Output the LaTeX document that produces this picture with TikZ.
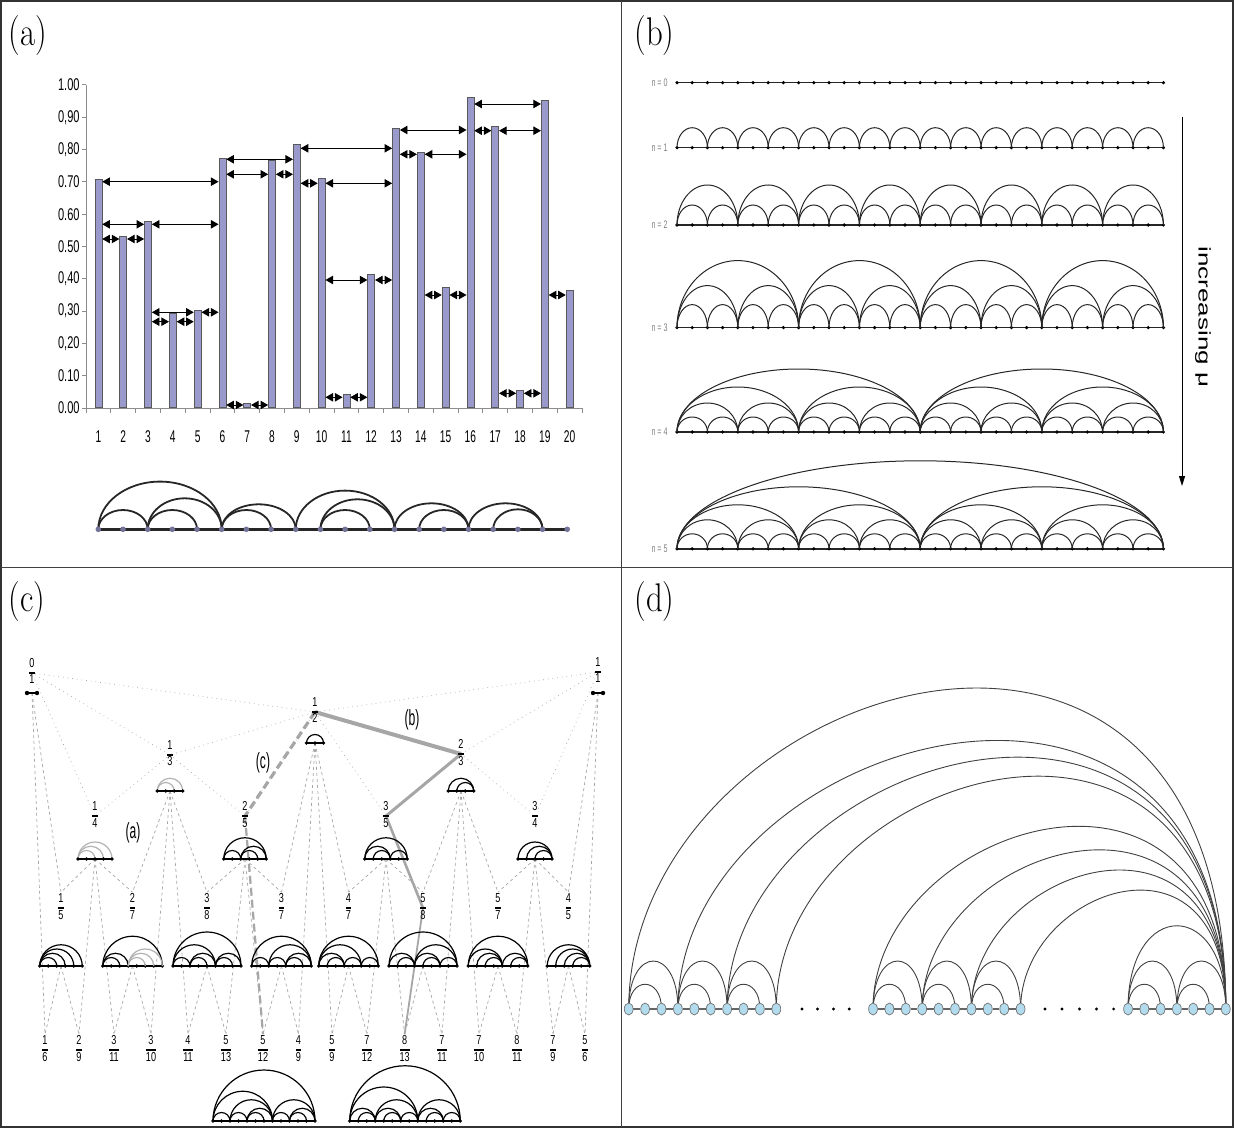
\documentclass[tikz,border=0pt]{standalone}
\usepackage{fontspec}
\newfontfamily\arial{Liberation Sans}
\usetikzlibrary{calc,positioning,arrows.meta,shapes.geometric}
\pgfdeclarelayer{back}
\pgfsetlayers{back,main}

\definecolor{barfill}{RGB}{153,153,204}
\definecolor{nodeblue}{RGB}{178,220,238}

\newcommand{\nar}[2][0.65]{\scalebox{#1}[1]{#2}}
\newcommand{\fr}[2]{\nar[0.7]{\renewcommand\arraystretch{1.05}\setlength\arrayrulewidth{0.7pt}\begin{tabular}{@{}c@{}}#1\\\hline#2\end{tabular}}}

% arc diagram of a fraction: name, x, y, intervals, arcs
\newcommand{\fdiag}[6][]{%
  \coordinate (#2) at (#3,#4);
  \foreach \ua/\ub in {#6}
    \draw[farc,#1] ($(#2)+({(\ua-#5/2)*8.5},0)$) arc[start angle=180,end angle=0,radius={(\ub-\ua)*2.125pt}];
  \draw[fbase] ($(#2)+({-#5*4.25},0)$) -- ($(#2)+({#5*4.25},0)$);
  \foreach \k in {0,...,#5}
    \fill ($(#2)+({(\k-#5/2)*8.5},0)$) circle[radius=0.9pt];
}
\newcommand{\fmore}[4][]{%
  \foreach \ua/\ub in {#4}
    \draw[farc,#1] ($(#2)+({(\ua-#3/2)*8.5},0)$) arc[start angle=180,end angle=0,radius={(\ub-\ua)*2.125pt}];
}
\newcommand{\fdumb}[3]{%
  \coordinate (#1) at (#2,#3);
  \draw[fbase] ($(#1)+(-5,0)$) -- ($(#1)+(5,0)$);
  \fill ($(#1)+(-5,0)$) circle[radius=1.1pt] ($(#1)+(5,0)$) circle[radius=1.1pt];
}

\tikzset{
  outerframe/.style={draw=black!80, line width=1pt},
  divider/.style={draw=black!75, line width=0.5pt},
  panel/.style={anchor=west, inner sep=0pt, font=\fontsize{20}{24}\selectfont},
  chartaxis/.style={draw=black!45, line width=0.5pt},
  barbox/.style={draw=black!65, fill=barfill, line width=0.35pt, minimum width=3.5pt, inner sep=0pt, anchor=south},
  ticklab/.style={inner sep=0pt, font=\arial\fontsize{8.5}{10}\selectfont},
  dbl/.style={{Triangle[length=3.8pt,width=4.2pt]}-{Triangle[length=3.8pt,width=4.2pt]}, line width=0.45pt},
  adot/.style={circle, fill=barfill!75!black, inner sep=0pt, minimum size=2.8pt},
  abase/.style={draw=black!85, line width=1.2pt},
  aarc/.style={draw=black!85, line width=0.9pt},
  nlab/.style={anchor=east, inner sep=0pt, text=black!50, font=\arial\fontsize{5.5}{6}\selectfont},
  bbase/.style={draw=black!85, line width=0.8pt},
  barc/.style={draw=black!85, line width=0.5pt},
  frl/.style={inner sep=0pt, font=\arial\fontsize{6.5}{7}\selectfont},
  fbase/.style={draw=black, line width=0.9pt},
  farc/.style={draw=black, line width=0.6pt},
  garc/.style={draw=black!30},
  fdot/.style={draw=black!35, line width=0.35pt, dotted},
  fdash/.style={draw=black!35, line width=0.35pt, dash pattern=on 1.5pt off 1.5pt},
  hlpath/.style={draw=black!35},
  hltext/.style={inner sep=0pt, font=\arial\fontsize{11}{12}\selectfont},
  dnode/.style={ellipse, draw=black!55, fill=nodeblue, line width=0.35pt, minimum width=4.4pt, minimum height=6pt, inner sep=0pt},
  ddot/.style={circle, fill=black, inner sep=0pt, minimum size=1.6pt},
  dline/.style={draw=black!60, line width=0.7pt},
  darc/.style={draw=black!75, line width=0.45pt},
}

\begin{document}
\begin{tikzpicture}[x=0.5pt,y=-0.5pt]
\useasboundingbox (0,0) rectangle (1234,1128);

% frame
\draw[outerframe] (1,1) rectangle (1233,1127);
\draw[divider] (621,1) -- (621,1127);
\draw[divider] (1,567) -- (1233,567);
\node[panel] (la) at (8,36) {\nar[0.82]{(a)}};
\node[panel] (lb) at (634,36) {\nar[0.82]{(b)}};
\node[panel] (lc) at (8,602) {\nar[0.82]{(c)}};
\node[panel] (ld) at (634,602) {\nar[0.82]{(d)}};

% (a) bar chart
\draw[chartaxis] (86,85) -- (86,408) -- (582,408);
\foreach \k [evaluate=\k as \yy using 408-32.3*\k] in {0,...,10}
  \draw[chartaxis] (82,\yy) -- (86,\yy);
\foreach \k/\lab in {0/0.00,1/0.10,2/{0,20},3/{0,30},4/{0,40},5/0.50,6/0.60,7/0.70,8/{0,80},9/{0,90},10/1.00}
  \node[ticklab, anchor=east] (yl\k) at (80,408-32.3*\k) {\nar{\lab}};
\foreach \k in {0,...,20}
  \draw[chartaxis] (86+24.8*\k,408) -- ++(0,5);
\foreach \i in {1,...,20}
  \node[ticklab] (xl\i) at (73.6+24.8*\i,437) {\nar[0.6]{\i}};
\foreach \i/\val in {1/0.706,2/0.530,3/0.578,4/0.291,5/0.300,6/0.773,7/0.012,8/0.765,9/0.816,10/0.709,11/0.042,12/0.414,13/0.864,14/0.789,15/0.371,16/0.961,17/0.870,18/0.055,19/0.951,20/0.364}
  \node[barbox, minimum height={\val*161.5pt}] (bar\i) at (73.6+24.8*\i,408) {};
\foreach \i/\j/\y in {1/6/181.7, 1/3/224.3, 1/2/239, 2/3/239, 3/6/224.3, 3/5/312.3, 3/4/321.7, 4/5/321.7, 5/6/312.3, 6/9/159.3, 6/8/174.3, 8/9/174.3, 6/7/405, 7/8/405, 9/13/148.3, 9/10/183.3, 10/13/183.3, 10/12/280, 12/13/280, 10/11/397.3, 11/12/397.3, 13/16/130, 13/14/154.3, 14/16/154.3, 14/15/295, 15/16/295, 16/19/104, 16/17/130.7, 17/19/130.7, 17/18/393.3, 18/19/393.3, 19/20/295}
  \draw[dbl] ($(bar\i.south east)+(0,\y-408)$) -- ($(bar\j.south west)+(0,\y-408)$);

% (a) arc diagram
\foreach \i in {1,...,20}
  \node[adot] (v\i) at (98.3+24.68*\i-24.68,529.3) {};
\begin{pgfonlayer}{back}
  \draw[abase] (v1.center) -- (v20.center);
  \foreach \i/\j/\h in {1/3/19.3, 1/6/47.7, 3/5/19.3, 3/6/31, 6/8/19.3, 6/9/25, 9/13/38.7, 10/12/19.3, 10/13/30, 13/16/26, 14/16/19.3, 16/19/26, 17/19/20}
    \draw[aarc] (v\i.center) arc[start angle=180,end angle=0,x radius={(\j-\i)*6.17pt},y radius={\h*0.5pt}];
\end{pgfonlayer}

% (b) rows n = 0 ... 5
\foreach \n/\y in {0/82.7,1/147.7,2/225,3/327.6,4/432,5/548.8} {
  \node[nlab] (nl\n) at (668,\y) {\nar{n = \n}};
  \draw[bbase] (677,\y) -- (1163.4,\y);
  \foreach \k in {0,...,32}
    \fill (677+15.2*\k,\y) circle[radius=0.9pt];
}
\foreach \y/\lv/\h in {147.7/1/20, 225/1/20, 225/2/40, 327.6/1/23, 327.6/2/42, 327.6/3/67, 432/1/15, 432/2/29, 432/3/45, 432/4/63, 548.8/1/15, 548.8/2/29, 548.8/3/44, 548.8/4/62, 548.8/5/88} {
  \pgfmathtruncatemacro{\sp}{2^\lv}
  \pgfmathtruncatemacro{\mm}{32/\sp-1}
  \foreach \k in {0,...,\mm}
    \draw[barc] (677+15.2*\sp*\k,\y) arc[start angle=180,end angle=0,x radius={\sp*3.8pt},y radius={\h*0.5pt}];
}
\coordinate (mu1) at (1182,117);
\coordinate (mu2) at (1182,486);
\draw[-{Triangle[length=5pt,width=3pt]}, line width=0.5pt] (mu1) -- (mu2);
\node[rotate=-90, inner sep=0pt, font=\arial\fontsize{13}{15}\selectfont] (incr) at (1203,317) {\scalebox{1}[0.65]{increasing μ}};

% (c) Farey tree of arc diagrams
\node[frl] (f01) at (32,673) {\fr01};
\node[frl] (f11) at (598,672) {\fr11};
\node[frl] (f12) at (315,712) {\fr12};
\node[frl] (f13) at (170,755) {\fr13};
\node[frl] (f23) at (461,754) {\fr23};
\foreach \nm/\x/\p/\q in {f14/95/1/4, f25/245/2/5, f35/386/3/5, f34/535/3/4}
  \node[frl] (\nm) at (\x,816) {\fr{\p}{\q}};
\foreach \nm/\x/\p/\q in {f15/61/1/5, f27/132.5/2/7, f38/207/3/8, f37/281.5/3/7, f47/348.5/4/7, f58/423/5/8, f57/498/5/7, f45/568.5/4/5}
  \node[frl] (\nm) at (\x,908) {\fr{\p}{\q}};
\foreach \nm/\x/\p/\q in {f16/45/1/6, f29/79/2/9, f311/114/3/11, f310/151/3/10, f411/188/4/11, f513/226/5/13, f512/263/5/12, f49/298.5/4/9, f59/332/5/9, f712/367/7/12, f813/404.6/8/13, f711/442/7/11, f710/479/7/10, f811/517/8/11, f79/553/7/9, f56/585/5/6}
  \node[frl] (\nm) at (\x,1050) {\fr{\p}{\q}};

\fdumb{f01d}{32}{693}
\fdumb{f11d}{598}{693}
\fdiag{f12d}{315}{743}{2}{0/2}
\fdiag[garc]{f13d}{170}{791}{3}{0/2,0/3}
\fdiag{f23d}{461}{791}{3}{1/3,0/3}
\fdiag[garc]{f14d}{95}{859}{4}{0/2,0/3,0/4}
\fdiag{f25d}{245}{859}{5}{0/2,2/4,2/5,0/5}
\fdiag{f35d}{386}{859}{5}{1/3,0/3,3/5,0/5}
\fdiag{f34d}{535}{859}{4}{2/4,1/4,0/4}
\fdiag{f15d}{61}{966}{5}{0/2,0/3,0/4,0/5}
\fdiag{f27d}{132.5}{966}{7}{0/2,0/3,0/7}
\fmore[garc]{f27d}{7}{3/5,3/6,3/7}
\fdiag{f38d}{207}{966}{8}{0/2,2/4,2/5,0/5,5/7,5/8,0/8}
\fdiag{f37d}{281.5}{966}{7}{0/2,2/4,4/6,4/7,2/7,0/7}
\fdiag{f47d}{348.5}{966}{7}{1/3,0/3,3/5,0/5,5/7,0/7}
\fdiag{f58d}{423}{966}{8}{1/3,0/3,4/6,3/6,6/8,3/8,0/8}
\fdiag{f57d}{498}{966}{7}{2/4,1/4,0/4,5/7,4/7,0/7}
\fdiag{f45d}{568.5}{966}{5}{3/5,2/5,1/5,0/5}
\fdiag{f512d}{264}{1121}{12}{0/2,2/4,4/6,4/7,2/7,0/7,7/9,9/11,9/12,7/12,0/12}
\fdiag{f813d}{405}{1121}{13}{1/3,0/3,4/6,3/6,6/8,3/8,0/8,9/11,8/11,11/13,8/13,0/13}

\node[hltext] (ta) at (133,833) {\nar[0.55]{(a)}};
\node[hltext] (tb) at (412,720) {\nar[0.55]{(b)}};
\node[hltext] (tc) at (263,763) {\nar[0.55]{(c)}};

\begin{pgfonlayer}{back}
  \foreach \pa/\ch in {f01/f12, f11/f12, f01/f13, f12/f13, f12/f23, f11/f23, f01/f14, f13/f14, f13/f25, f12/f25, f12/f35, f23/f35, f23/f34, f11/f34}
    \draw[fdot] (\pa) -- (\ch);
  \foreach \pa/\ch in {f01d/f15, f14d/f15, f14d/f27, f13d/f27, f13d/f38, f25d/f38, f25d/f37, f12d/f37, f12d/f47, f35d/f47, f35d/f58, f23d/f58, f23d/f57, f34d/f57, f34d/f45, f11d/f45, f01d/f16, f15d/f16, f15d/f29, f14d/f29, f14d/f311, f27d/f311, f27d/f310, f13d/f310, f13d/f411, f38d/f411, f38d/f513, f25d/f513, f25d/f512, f37d/f512, f37d/f49, f12d/f49, f12d/f59, f47d/f59, f47d/f712, f35d/f712, f35d/f813, f58d/f813, f58d/f711, f23d/f711, f23d/f710, f57d/f710, f57d/f811, f34d/f811, f34d/f79, f45d/f79, f45d/f56, f11d/f56}
    \draw[fdash] (\pa) -- (\ch.north);
  % highlighted paths
  \draw[hlpath, line width=2pt] (f12.center) -- (f23.center);
  \draw[hlpath, line width=1.5pt] (f23.center) -- (f35.center);
  \draw[hlpath, line width=1.3pt] (f35.center) -- (f58.center);
  \draw[hlpath, line width=0.9pt] (f58.center) -- (f813.north);
  \draw[hlpath, line width=1.6pt, dash pattern=on 4pt off 2pt] (f12.center) -- (f25.center);
  \draw[hlpath, line width=1.1pt, dash pattern=on 4pt off 2pt] (f25.center) -- (f512.north);
\end{pgfonlayer}

% (d) arcs into the last node
\foreach \i in {0,...,9} {
  \node[dnode] (da\i) at (628.7+16.4*\i,1009) {};
  \node[dnode] (db\i) at (873+16.4*\i,1009) {};
}
\foreach \i in {0,...,6}
  \node[dnode] (dc\i) at (1128+16.3*\i,1009) {};
\foreach \x [count=\i] in {802,817.5,833.4,849.3,1045,1062,1079.5,1096.5,1113.6}
  \node[ddot] (dd\i) at (\x,1009) {};

\begin{pgfonlayer}{back}
  \foreach \g/\m in {da/8,db/8,dc/5}
    \foreach \i in {0,...,\m} {
      \pgfmathtruncatemacro{\j}{\i+1}
      \draw[dline] (\g\i) -- (\g\j);
    }
  \foreach \g/\st in {da/0,da/3,da/6,db/0,db/3,db/6,dc/0,dc/3} {
    \pgfmathtruncatemacro{\ea}{\st+2}
    \pgfmathtruncatemacro{\eb}{\st+3}
    \draw[darc] (\g\st.center) .. controls +(0,-33) and +(0,-33) .. (\g\ea.center);
    \draw[darc] (\g\st.center) .. controls +(0,-64) and +(0,-64) .. (\g\eb.center);
  }
  \draw[darc] (dc0.center) .. controls +(0,-111) and +(0,-111) .. (dc6.center);
  \foreach \st/\ka/\kb in {da0/325/520, da3/272/435, da6/255/408, da9/236/377, db0/185/296, db3/161/258, db6/141/225, db9/120/193}
    \draw[darc] (\st.center) .. controls +(0,-\ka) and +(0,-\kb) .. (dc6.center);
\end{pgfonlayer}
\end{tikzpicture}
\end{document}
